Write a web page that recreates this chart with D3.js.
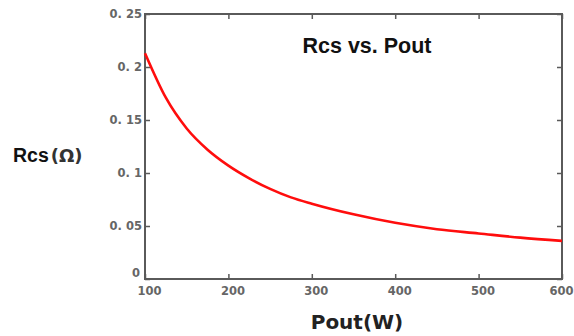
<!DOCTYPE html>
<html><head><meta charset="utf-8">
<script src="https://cdn.jsdelivr.net/npm/d3@7"></script>
<style>body{margin:0;background:#fff}svg{display:block}</style>
</head><body>
<svg id="c" width="574" height="336"></svg>
<script>
const pout = [100,125,150,175,200,225,250,275,300,350,400,450,500,550,600];
const rcs  = [0.213,0.171,0.142,0.122,0.107,0.095,0.085,0.077,0.071,0.061,0.053,0.047,0.043,0.039,0.036];
const xTicks = [100,200,300,400,500,600];
const yTicks = [0,0.05,0.1,0.15,0.2,0.25];
const yTickLabels = ["0","0. 05","0. 1","0. 15","0. 2","0. 25"];
const title = "Rcs vs. Pout";
const xLabel = "Pout(W)";

const svg = d3.select("#c");
const L=145,R=562,T=14,B=279;
const x = d3.scaleLinear().domain([100,600]).range([L,R]);
const y = d3.scaleLinear().domain([0,0.25]).range([B,T]);
const axisCol="#5a5a5a";
const tl=5;

svg.append("rect").attr("x",L).attr("y",T).attr("width",R-L).attr("height",B-T)
  .attr("fill","none").attr("stroke",axisCol).attr("stroke-width",2);

const gx = svg.append("g").attr("transform",`translate(0,${B})`)
  .call(d3.axisBottom(x).tickValues(xTicks).tickSize(-tl).tickSizeOuter(0).tickPadding(5).tickFormat(d3.format("d")));
const gxt = svg.append("g").attr("transform",`translate(0,${T})`)
  .call(d3.axisTop(x).tickValues(xTicks).tickSize(-tl).tickSizeOuter(0).tickFormat(""));
const gy = svg.append("g").attr("transform",`translate(${L},0)`)
  .call(d3.axisLeft(y).tickValues(yTicks).tickSize(-tl).tickSizeOuter(0).tickPadding(3).tickFormat((d,i)=>yTickLabels[i]));
const gyr = svg.append("g").attr("transform",`translate(${R},0)`)
  .call(d3.axisRight(y).tickValues(yTicks).tickSize(-tl).tickSizeOuter(0).tickFormat(""));
[gx,gxt,gy,gyr].forEach(g=>{
  g.select(".domain").remove();
  g.selectAll(".tick line").attr("stroke",axisCol).attr("stroke-width",1.5);
  g.selectAll("text").attr("fill","#666").style("font-family","DejaVu Sans, sans-serif")
    .style("font-weight","bold").style("font-size","11.5px");
});
gx.selectAll(".tick text").attr("dy","0.95em").attr("dx",d=>d===600?"-1":"4");
gy.selectAll(".tick text").filter(d=>d===0).attr("dy","-0.2em").attr("dx","-2");

const line = d3.line().x((d,i)=>x(pout[i])).y(d=>y(d)).curve(d3.curveMonotoneX);
svg.append("path").datum(rcs).attr("d",line).attr("fill","none")
  .attr("stroke","#ff0d0d").attr("stroke-width",2.6);

svg.append("text").attr("x",367).attr("y",53).attr("text-anchor","middle")
  .style("font-family","Liberation Sans, Arial, sans-serif").style("font-weight","bold").style("font-size","21.5px")
  .attr("fill","#111").text(title);

const yl = svg.append("text").attr("x",13).attr("y",162)
  .style("font-family","Liberation Sans, Arial, sans-serif").style("font-weight","bold").style("font-size","19.5px").attr("fill","#111");
yl.append("tspan").text("Rcs");
yl.append("tspan").attr("dx","2").style("font-family","DejaVu Sans, sans-serif").style("font-size","18px").attr("fill","#333").text("(Ω)");

svg.append("text").attr("x",357).attr("y",329).attr("text-anchor","middle")
  .style("font-family","DejaVu Sans, sans-serif").style("font-weight","bold").style("font-size","20px")
  .attr("fill","#222").text(xLabel);
</script>
</body></html>
